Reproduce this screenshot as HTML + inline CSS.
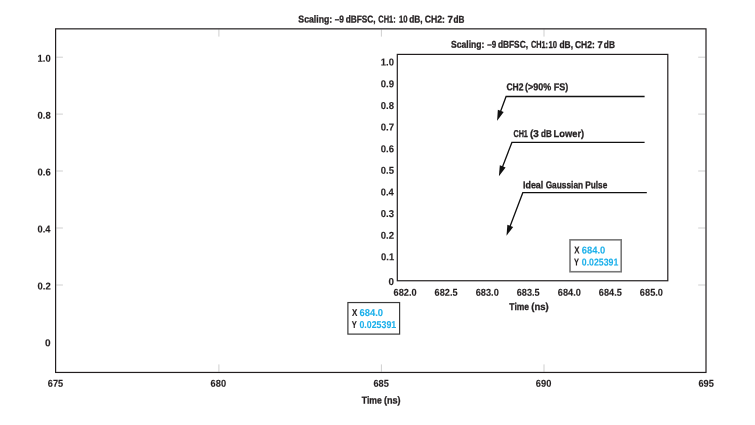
<!DOCTYPE html>
<html>
<head>
<meta charset="utf-8">
<title>Chart</title>
<style>
html,body{margin:0;padding:0;background:#fff;}
body{width:755px;height:425px;overflow:hidden;font-family:"Liberation Sans",sans-serif;}
svg{display:block;will-change:transform;}
text{font-family:"Liberation Sans",sans-serif;font-weight:bold;font-size:10.0px;fill:#231f20;stroke:#231f20;stroke-width:0.3px;text-rendering:geometricPrecision;font-kerning:none;white-space:pre;}
.d{stroke-width:0.12px;}
.b{fill:#1cb0ea;stroke:#1cb0ea;stroke-width:0.08px;}
.tk{stroke:#cfcfcf;stroke-width:1;fill:none;}
.ax{stroke:#231f20;stroke-width:1.2;fill:none;}
.ln{stroke:#111;stroke-width:1.3;fill:none;}
.ah{fill:#111;stroke:none;}
</style>
</head>
<body>
<svg width="755" height="425" viewBox="0 0 755 425">
<rect x="0" y="0" width="755" height="425" fill="#ffffff"/>

<g class="tk">
<path d="M56.2 57.2H62.9M56.2 114.1H62.9M56.2 171.0H62.9M56.2 228.0H62.9M56.2 285.0H62.9"/>
<path d="M705.4 57.2H698.2M705.4 114.1H698.2M705.4 171.0H698.2M705.4 228.0H698.2M705.4 285.0H698.2"/>
<path d="M218.9 29.4V36.6M381.4 29.4V36.6M544.0 29.4V36.6"/>
<path d="M218.9 371.8V364.4M381.4 371.8V364.4M544.0 371.8V364.4"/>
</g>
<rect class="ax" x="55.6" y="28.85" width="650.4" height="343.6"/>
<text transform="translate(298.60 22.50) skewY(0.05)"><tspan x="-0.25" textLength="33.84" lengthAdjust="spacingAndGlyphs">Scaling:</tspan> <tspan x="36.05" textLength="9.26" lengthAdjust="spacingAndGlyphs">–9</tspan> <tspan x="47.06" textLength="30.00" lengthAdjust="spacingAndGlyphs">dBFSC,</tspan> <tspan x="79.69" textLength="17.42" lengthAdjust="spacingAndGlyphs">CH1:</tspan> <tspan x="100.31" textLength="8.60" lengthAdjust="spacingAndGlyphs">10</tspan> <tspan x="110.66" textLength="13.40" lengthAdjust="spacingAndGlyphs">dB,</tspan> <tspan x="126.15" textLength="20.19" lengthAdjust="spacingAndGlyphs">CH2:</tspan> <tspan x="148.88" textLength="5.45" lengthAdjust="spacingAndGlyphs">7</tspan> <tspan x="154.96" textLength="10.96" lengthAdjust="spacingAndGlyphs">dB</tspan></text>
<text class="d" transform="translate(37.55 61.75) skewY(0.05)" textLength="13.14" lengthAdjust="spacingAndGlyphs">1.0</text>
<text class="d" transform="translate(37.53 118.70) skewY(0.05)" textLength="13.17" lengthAdjust="spacingAndGlyphs">0.8</text>
<text class="d" transform="translate(37.52 175.60) skewY(0.05)" textLength="13.22" lengthAdjust="spacingAndGlyphs">0.6</text>
<text class="d" transform="translate(37.53 232.50) skewY(0.05)" textLength="12.92" lengthAdjust="spacingAndGlyphs">0.4</text>
<text class="d" transform="translate(37.52 289.40) skewY(0.05)" textLength="13.26" lengthAdjust="spacingAndGlyphs">0.2</text>
<text class="d" transform="translate(45.10 346.30) skewY(0.05)" textLength="5.61" lengthAdjust="spacingAndGlyphs">0</text>
<text class="d" transform="translate(47.86 386.80) skewY(0.05)" textLength="15.39" lengthAdjust="spacingAndGlyphs">675</text>
<text class="d" transform="translate(210.56 386.80) skewY(0.05)" textLength="15.52" lengthAdjust="spacingAndGlyphs">680</text>
<text class="d" transform="translate(373.46 386.80) skewY(0.05)" textLength="15.39" lengthAdjust="spacingAndGlyphs">685</text>
<text class="d" transform="translate(535.86 386.80) skewY(0.05)" textLength="15.52" lengthAdjust="spacingAndGlyphs">690</text>
<text class="d" transform="translate(698.46 386.80) skewY(0.05)" textLength="15.39" lengthAdjust="spacingAndGlyphs">695</text>
<text transform="translate(361.80 403.40) skewY(0.05)"><tspan x="-0.10" textLength="20.14" lengthAdjust="spacingAndGlyphs">Time</tspan> <tspan x="22.15" textLength="16.71" lengthAdjust="spacingAndGlyphs">(ns)</tspan></text>
<rect class="ax" x="397.3" y="54.4" width="270.5" height="226.35" fill="#fff"/>
<text transform="translate(451.20 47.80) skewY(0.05)"><tspan x="-0.25" textLength="33.48" lengthAdjust="spacingAndGlyphs">Scaling:</tspan> <tspan x="36.06" textLength="8.94" lengthAdjust="spacingAndGlyphs">–9</tspan> <tspan x="46.71" textLength="30.10" lengthAdjust="spacingAndGlyphs">dBFSC,</tspan> <tspan x="79.70" textLength="17.11" lengthAdjust="spacingAndGlyphs">CH1:</tspan><tspan x="97.31" textLength="8.60" lengthAdjust="spacingAndGlyphs">10</tspan> <tspan x="108.25" textLength="13.61" lengthAdjust="spacingAndGlyphs">dB,</tspan> <tspan x="123.75" textLength="19.87" lengthAdjust="spacingAndGlyphs">CH2:</tspan> <tspan x="146.30" textLength="5.21" lengthAdjust="spacingAndGlyphs">7</tspan> <tspan x="152.66" textLength="11.12" lengthAdjust="spacingAndGlyphs">dB</tspan></text>
<text class="d" transform="translate(380.85 65.60) skewY(0.05)" textLength="13.14" lengthAdjust="spacingAndGlyphs">1.0</text>
<text class="d" transform="translate(380.72 87.24) skewY(0.05)" textLength="13.34" lengthAdjust="spacingAndGlyphs">0.9</text>
<text class="d" transform="translate(380.72 108.88) skewY(0.05)" textLength="13.27" lengthAdjust="spacingAndGlyphs">0.8</text>
<text class="d" transform="translate(380.72 130.52) skewY(0.05)" textLength="13.41" lengthAdjust="spacingAndGlyphs">0.7</text>
<text class="d" transform="translate(380.72 152.16) skewY(0.05)" textLength="13.33" lengthAdjust="spacingAndGlyphs">0.6</text>
<text class="d" transform="translate(380.72 173.80) skewY(0.05)" textLength="13.24" lengthAdjust="spacingAndGlyphs">0.5</text>
<text class="d" transform="translate(380.73 195.44) skewY(0.05)" textLength="13.02" lengthAdjust="spacingAndGlyphs">0.4</text>
<text class="d" transform="translate(380.72 217.08) skewY(0.05)" textLength="13.33" lengthAdjust="spacingAndGlyphs">0.3</text>
<text class="d" transform="translate(380.72 238.72) skewY(0.05)" textLength="13.37" lengthAdjust="spacingAndGlyphs">0.2</text>
<text class="d" transform="translate(381.03 260.36) skewY(0.05)" textLength="13.14" lengthAdjust="spacingAndGlyphs">0.1</text>
<text class="d" transform="translate(388.61 284.90) skewY(0.05)" textLength="5.50" lengthAdjust="spacingAndGlyphs">0</text>
<text class="d" transform="translate(393.56 295.70) skewY(0.05)" textLength="23.12" lengthAdjust="spacingAndGlyphs">682.0</text>
<text class="d" transform="translate(434.61 295.70) skewY(0.05)" textLength="22.99" lengthAdjust="spacingAndGlyphs">682.5</text>
<text class="d" transform="translate(475.66 295.70) skewY(0.05)" textLength="23.12" lengthAdjust="spacingAndGlyphs">683.0</text>
<text class="d" transform="translate(516.71 295.70) skewY(0.05)" textLength="22.99" lengthAdjust="spacingAndGlyphs">683.5</text>
<text class="d" transform="translate(557.76 295.70) skewY(0.05)" textLength="23.12" lengthAdjust="spacingAndGlyphs">684.0</text>
<text class="d" transform="translate(598.81 295.70) skewY(0.05)" textLength="22.99" lengthAdjust="spacingAndGlyphs">684.5</text>
<text class="d" transform="translate(639.86 295.70) skewY(0.05)" textLength="23.12" lengthAdjust="spacingAndGlyphs">685.0</text>
<text transform="translate(509.30 309.95) skewY(0.05)"><tspan x="-0.10" textLength="19.89" lengthAdjust="spacingAndGlyphs">Time</tspan> <tspan x="22.03" textLength="17.45" lengthAdjust="spacingAndGlyphs">(ns)</tspan></text>
<text transform="translate(506.80 90.30) skewY(0.05)"><tspan x="-0.35" textLength="17.09" lengthAdjust="spacingAndGlyphs">CH2</tspan> <tspan x="18.10" textLength="26.23" lengthAdjust="spacingAndGlyphs">(&gt;90%</tspan> <tspan x="47.00" textLength="14.55" lengthAdjust="spacingAndGlyphs">FS)</tspan></text>
<path class="ln" d="M644.6 96.5H506.1L500.43 111.80"/>
<path class="ah" d="M497.10 120.80L497.87 109.78L503.69 111.94Z"/>
<text transform="translate(513.70 137.00) skewY(0.05)"><tspan x="-0.30" textLength="14.50" lengthAdjust="spacingAndGlyphs">CH1</tspan> <tspan x="16.20" textLength="8.86" lengthAdjust="spacingAndGlyphs">(3</tspan> <tspan x="27.37" textLength="10.80" lengthAdjust="spacingAndGlyphs">dB</tspan> <tspan x="39.93" textLength="30.54" lengthAdjust="spacingAndGlyphs">Lower)</tspan></text>
<path class="ln" d="M644.6 142.4H511.9L502.35 167.24"/>
<path class="ah" d="M498.90 176.20L499.81 165.19L505.60 167.42Z"/>
<text transform="translate(523.60 188.20) skewY(0.05)"><tspan x="-0.60" textLength="20.28" lengthAdjust="spacingAndGlyphs">Ideal</tspan> <tspan x="22.06" textLength="37.46" lengthAdjust="spacingAndGlyphs">Gaussian</tspan> <tspan x="61.65" textLength="22.03" lengthAdjust="spacingAndGlyphs">Pulse</tspan></text>
<path class="ln" d="M646.8 192.7H522.8L509.90 226.72"/>
<path class="ah" d="M506.50 235.70L507.36 224.69L513.16 226.89Z"/>
<rect x="570.0" y="239.85" width="51.2" height="31.9" fill="#fff" stroke="#787878" stroke-width="1.6"/>
<text class="d" font-size="9.4" transform="translate(574.13 253.45) skewY(0.05)" textLength="5.24" lengthAdjust="spacingAndGlyphs">X</text>
<text class="b d" font-size="9.4" transform="translate(581.76 253.45) skewY(0.05)" textLength="23.53" lengthAdjust="spacingAndGlyphs">684.0</text>
<text class="d" font-size="9.4" transform="translate(574.07 265.50) skewY(0.05)" textLength="4.95" lengthAdjust="spacingAndGlyphs">Y</text>
<text class="b d" font-size="9.4" transform="translate(581.75 265.50) skewY(0.05)" textLength="36.59" lengthAdjust="spacingAndGlyphs">0.025391</text>
<rect x="347.9" y="302.55" width="51.7" height="31.55" fill="#fff" stroke="#3a3a3a" stroke-width="1.2"/>
<text class="d" font-size="9.4" transform="translate(351.93 316.05) skewY(0.05)" textLength="5.34" lengthAdjust="spacingAndGlyphs">X</text>
<text class="b d" font-size="9.4" transform="translate(359.45 316.05) skewY(0.05)" textLength="23.68" lengthAdjust="spacingAndGlyphs">684.0</text>
<text class="d" font-size="9.4" transform="translate(351.87 327.90) skewY(0.05)" textLength="5.05" lengthAdjust="spacingAndGlyphs">Y</text>
<text class="b d" font-size="9.4" transform="translate(359.45 327.90) skewY(0.05)" textLength="36.79" lengthAdjust="spacingAndGlyphs">0.025391</text>
</svg>
</body>
</html>
